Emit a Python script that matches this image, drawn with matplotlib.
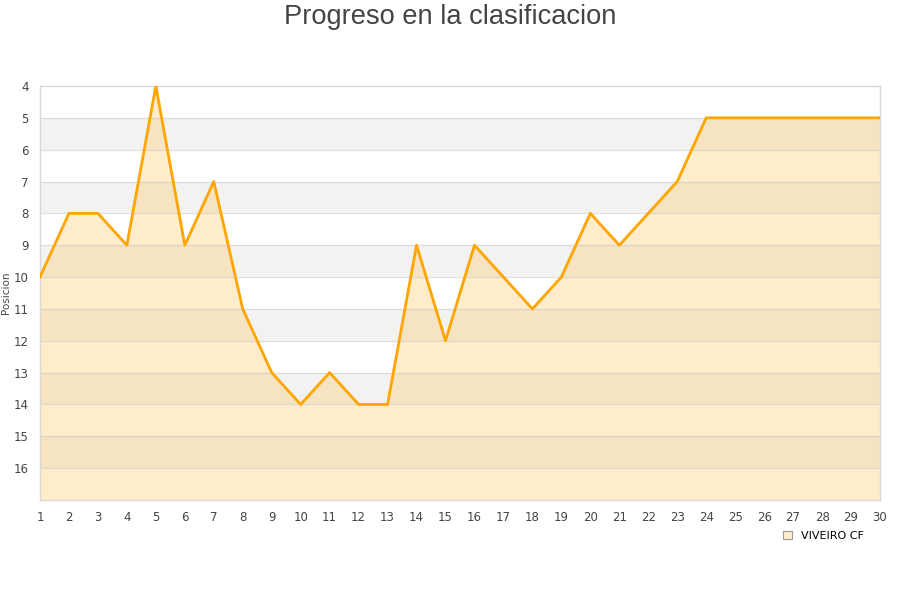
import matplotlib
matplotlib.use('Agg')
import matplotlib.pyplot as plt
from matplotlib.patches import Patch

# --- data ---
jornadas = list(range(1, 31))
posicion = [10, 8, 8, 9, 4, 9, 7, 11, 13, 14, 13, 14, 14, 9, 12,
            9, 10, 11, 10, 8, 9, 8, 7, 5, 5, 5, 5, 5, 5, 5]
equipo = "VIVEIRO CF"
y_ticks = list(range(4, 17))

COLOR_LINE = "#FFA500"
COLOR_FILL = "#FFC355"
COLOR_BAND = "#F2F2F2"
COLOR_TEXT = "#444444"

fig = plt.figure(figsize=(9, 6), dpi=100, facecolor="white")
ax = fig.add_axes([0.0444, 0.1667, 0.9334, 0.69])

y_top, y_bottom = 4, 17
# alternating bands
for y in range(5, y_bottom, 2):
    ax.axhspan(y, y + 1, color=COLOR_BAND, zorder=0, lw=0)

ax.fill_between(jornadas, posicion, y_bottom, color=COLOR_FILL, alpha=0.3,
                lw=0, zorder=1)
for y in range(y_top + 1, y_bottom):
    ax.axhline(y, color="#CCCCCC", lw=0.9, alpha=0.6, zorder=2)
ax.plot(jornadas, posicion, color=COLOR_LINE, lw=2.0, zorder=3)

ax.set_xlim(1, 30)
ax.set_ylim(y_bottom, y_top)
ax.set_xticks(jornadas)
ax.set_yticks(y_ticks)
ax.tick_params(length=0, labelsize=8.5, colors=COLOR_TEXT, pad=8)
for s in ax.spines.values():
    s.set_color("#D8D8D8")
    s.set_linewidth(1)

ax.set_ylabel("Posicion", fontsize=7.5, color=COLOR_TEXT, labelpad=6)
ax.yaxis.set_label_coords(-0.035, 0.5)

fig.suptitle("Progreso en la clasificacion", fontsize=19.6, color=COLOR_TEXT,
             family="Liberation Sans", y=0.993)

handle = Patch(facecolor="#FFEDCC", edgecolor="#999999", lw=0.8)
fig.legend([handle], [equipo], loc="center", bbox_to_anchor=(0.915, 0.107),
           frameon=False, fontsize=8, handlelength=0.8, handleheight=0.8,
           handletextpad=0.8)

fig.savefig("out.png", dpi=100, facecolor="white")
